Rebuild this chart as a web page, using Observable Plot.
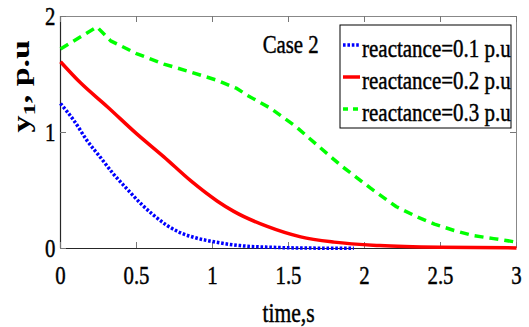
<!DOCTYPE html>
<html><head><meta charset="utf-8">
<script src="https://cdn.jsdelivr.net/npm/d3@7"></script>
<script src="https://cdn.jsdelivr.net/npm/@observablehq/plot@0.6"></script>
<style>
html,body{margin:0;padding:0;background:#fff;}
#chart{width:529px;height:327px;overflow:hidden;}
</style></head><body><div id="chart"></div>
<script>
// ---- data ----
const t01 = [0, 0.09, 0.175, 0.26, 0.35, 0.44, 0.53, 0.61, 0.70, 0.79, 0.88, 1.0, 1.18, 1.4, 1.6, 1.93];
const y01 = [1.25, 1.10, 0.93, 0.79, 0.64, 0.51, 0.385, 0.29, 0.20, 0.135, 0.095, 0.06, 0.025, 0.01, 0.004, 0.002];
const t02 = [0, 0.13, 0.31, 0.5, 0.68, 0.86, 1.03, 1.14, 1.36, 1.58, 1.8, 2.1, 2.5, 3.0];
const y02 = [1.61, 1.43, 1.22, 0.99, 0.79, 0.58, 0.41, 0.32, 0.19, 0.10, 0.055, 0.025, 0.01, 0.005];
const t03 = [0, 0.24, 0.33, 0.5, 0.68, 0.86, 1.03, 1.16, 1.23, 1.38, 1.55, 1.69, 1.85, 2.04, 2.21, 2.35, 2.46, 2.59, 2.72, 2.85, 3.0];
const y03 = [1.72, 1.91, 1.79, 1.68, 1.59, 1.52, 1.45, 1.38, 1.32, 1.21, 1.05, 0.89, 0.71, 0.52, 0.36, 0.27, 0.21, 0.155, 0.11, 0.085, 0.055];

const seriesNames = ["reactance=0.1 p.u", "reactance=0.2 p.u", "reactance=0.3 p.u"];
const seriesColors = ["#0000ff", "#ff0000", "#00ff00"];
const seriesDash = ["2.6,1.8", null, "9,6"];
const seriesCurve = ["monotone-x", "monotone-x", "linear"];
const legendDash = ["2.6,1.8", null, "5,5"];

const xDomain = [0, 3];
const yDomain = [0, 2];
const xTicks = [0, 0.5, 1, 1.5, 2, 2.5, 3];
const xTickLabels = ["0", "0.5", "1", "1.5", "2", "2.5", "3"];
const yTicks = [0, 1, 2];
const yTickLabels = ["0", "1", "2"];
const xLabel = "time,s";
const yLabelParts = ["y", "1", ", p.u"];
const annotation = [{x: 1.33, y: 1.76, text: "Case 2"}];

// ---- layout ----
const W = 529, H = 327, mL = 60, mR = 13, mT = 16, mB = 79;
const innerW = W - mL - mR, innerH = H - mT - mB;
const FONT = "Liberation Serif, Times New Roman, serif";

const tSets = [t01, t02, t03], ySets = [y01, y02, y03];
const series = tSets.map((t, k) => t.map((x, i) => ({x, y: ySets[k][i]})));

function legendMark(index, scales, values, dims) {
  const g = d3.create("svg:g");
  const right = dims.width - dims.marginRight - 5;
  const bw = 171, bh = 103;
  const left = right - bw, top = dims.marginTop + 9;
  g.append("rect").attr("x", left).attr("y", top).attr("width", bw).attr("height", bh)
    .attr("fill", "white").attr("stroke", "black").attr("stroke-width", 1);
  seriesNames.forEach((name, i) => {
    const cy = top + 20 + 32 * i;
    const ln = g.append("line").attr("x1", left + 3).attr("x2", left + 20).attr("y1", cy).attr("y2", cy)
      .attr("stroke", seriesColors[i]).attr("stroke-width", 3.5);
    if (legendDash[i]) ln.attr("stroke-dasharray", legendDash[i]);
    g.append("text").attr("class", "legend-text").attr("transform", `translate(${left + 22},${cy + 11.5})`)
      .attr("text-anchor", "start")
      .attr("font-size", 25).attr("fill", "black").attr("font-family", FONT).text(name);
  });
  return g.node();
}

const marks = [
  // box
  Plot.ruleY([yDomain[1]], {stroke: "#888", strokeWidth: 1}),
  Plot.ruleX([xDomain[1]], {stroke: "#888", strokeWidth: 1}),
  Plot.ruleY([yDomain[0]], {stroke: "#262626", strokeWidth: 1.2}),
  Plot.ruleX([xDomain[0]], {stroke: "#262626", strokeWidth: 1.2}),
  // inward ticks
  Plot.tickX(xTicks, {x: d => d, stroke: "#777", insetTop: innerH - 6}),
  Plot.tickX(xTicks, {x: d => d, stroke: "#777", insetBottom: innerH - 6}),
  Plot.tickY(yTicks, {y: d => d, stroke: "#777", insetRight: innerW - 6}),
  Plot.tickY(yTicks, {y: d => d, stroke: "#777", insetLeft: innerW - 6}),
  // tick labels
  Plot.text(xTicks, {x: d => d, text: (d, i) => xTickLabels[i], frameAnchor: "bottom", lineAnchor: "bottom", dy: 35, fontSize: 26, fill: "black"}),
  Plot.text(yTicks, {y: d => d, text: (d, i) => yTickLabels[i], frameAnchor: "left", textAnchor: "end", lineAnchor: "middle", dx: -5, fontSize: 26, fill: "black"}),
  // axis labels
  Plot.text([xLabel], {text: d => d, frameAnchor: "bottom", lineAnchor: "bottom", dy: 73, fontSize: 27, fill: "black"}),
  Plot.text([yLabelParts.join("")], {text: d => d, frameAnchor: "left", dx: -31, rotate: -90, lineAnchor: "bottom", fontSize: 34, fontWeight: "bold", fill: "black"}),
  // data
  ...series.map((s, k) => Plot.line(s, {x: "x", y: "y", stroke: seriesColors[k], strokeWidth: 3.5, curve: seriesCurve[k],
      strokeDasharray: seriesDash[k] || undefined, strokeLinecap: "butt", strokeLinejoin: "round"})),
  // annotation
  Plot.text(annotation, {x: "x", y: "y", text: "text", textAnchor: "start", lineAnchor: "middle", fontSize: 26, fill: "black"}),
  legendMark
];

const svg = Plot.plot({
  width: W, height: H,
  marginLeft: mL, marginRight: mR, marginTop: mT, marginBottom: mB,
  x: {domain: xDomain, axis: null},
  y: {domain: yDomain, axis: null},
  style: {fontFamily: FONT, background: "white", overflow: "visible"},
  marks
});
document.getElementById("chart").append(svg);

// subscript for y label, heavier strokes and horizontal compression of all texts (as in the original)
svg.querySelectorAll("text").forEach(t => {
  const isYLabel = t.textContent === yLabelParts.join("");
  if (isYLabel) {
    t.textContent = "";
    const ns = "http://www.w3.org/2000/svg";
    const a = document.createElementNS(ns, "tspan"); a.textContent = yLabelParts[0]; t.appendChild(a);
    const b = document.createElementNS(ns, "tspan"); b.textContent = yLabelParts[1];
    b.setAttribute("dy", "0.3em"); b.setAttribute("font-size", "0.72em"); t.appendChild(b);
    const c = document.createElementNS(ns, "tspan"); c.textContent = yLabelParts[2];
    c.setAttribute("dy", "-0.22em"); t.appendChild(c);
  } else {
    t.setAttribute("stroke", "black");
    t.setAttribute("stroke-width", "0.45");
  }
  let tr = t.getAttribute("transform") || "";
  if (!tr) {
    const x = t.getAttribute("x") || 0, y = t.getAttribute("y") || 0;
    tr = `translate(${x},${y})`;
    t.removeAttribute("x"); t.removeAttribute("y");
  }
  if (/rotate/.test(tr)) tr += " scale(1,0.72)";
  else if (t.classList.contains("legend-text")) tr += " scale(0.84,1)";
  else tr += " scale(0.8,1)";
  t.setAttribute("transform", tr);
});
</script>
</body></html>
